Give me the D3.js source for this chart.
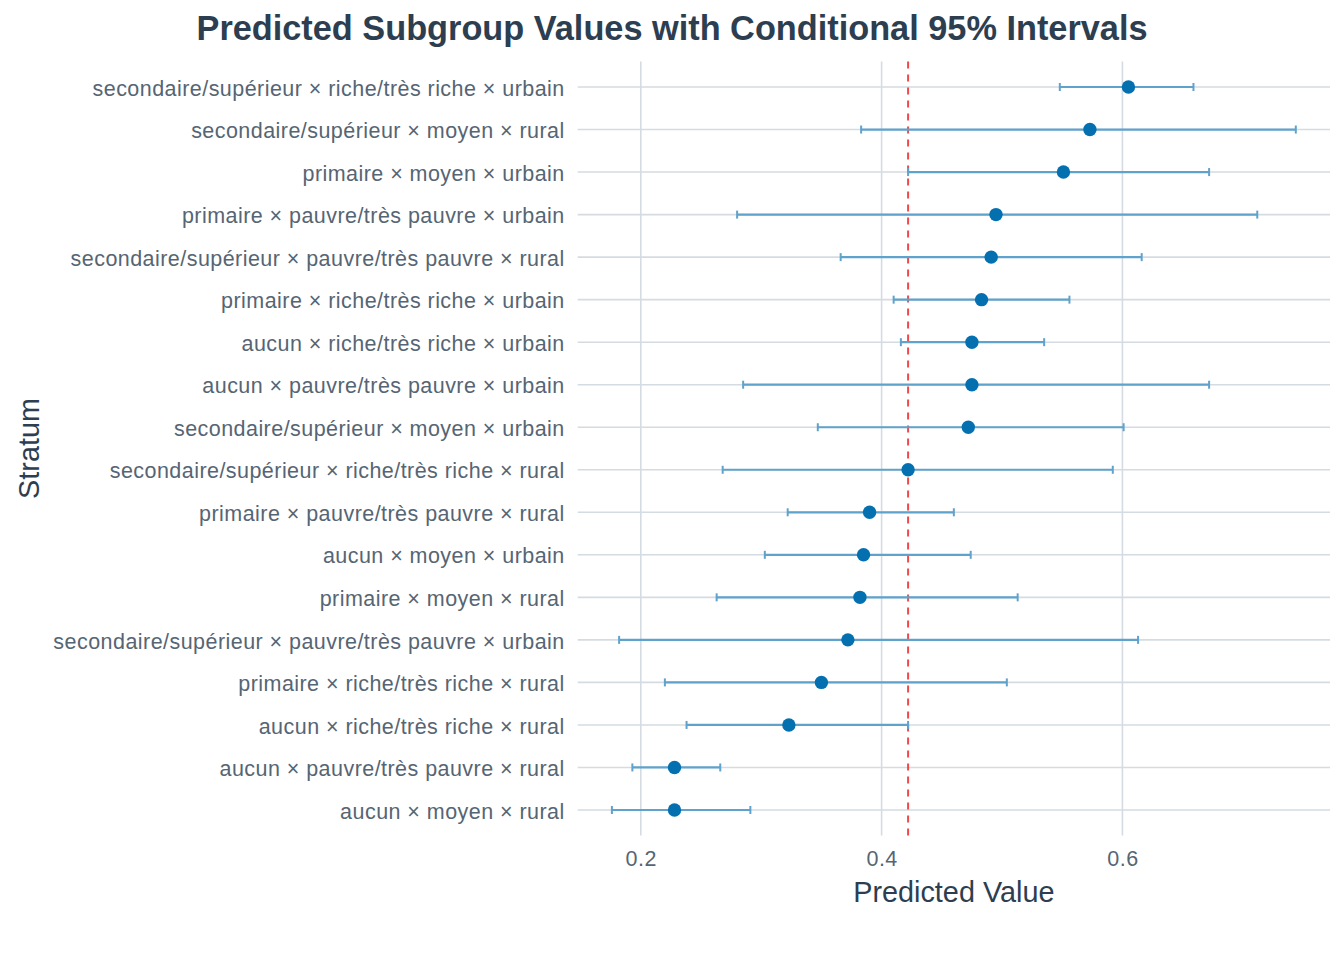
<!DOCTYPE html>
<html>
<head>
<meta charset="utf-8">
<script src="https://cdn.jsdelivr.net/npm/d3@7"></script>
<style>
  body { margin: 0; background: #fff; }
  text { font-family: "Liberation Sans", Arial, sans-serif; }
</style>
</head>
<body>
<div id="chart"></div>
<script>
// strata, top to bottom
var strata = [
  "secondaire/supérieur × riche/très riche × urbain",
  "secondaire/supérieur × moyen × rural",
  "primaire × moyen × urbain",
  "primaire × pauvre/très pauvre × urbain",
  "secondaire/supérieur × pauvre/très pauvre × rural",
  "primaire × riche/très riche × urbain",
  "aucun × riche/très riche × urbain",
  "aucun × pauvre/très pauvre × urbain",
  "secondaire/supérieur × moyen × urbain",
  "secondaire/supérieur × riche/très riche × rural",
  "primaire × pauvre/très pauvre × rural",
  "aucun × moyen × urbain",
  "primaire × moyen × rural",
  "secondaire/supérieur × pauvre/très pauvre × urbain",
  "primaire × riche/très riche × rural",
  "aucun × riche/très riche × rural",
  "aucun × pauvre/très pauvre × rural",
  "aucun × moyen × rural"
]
var predicted = [0.605, 0.573, 0.551, 0.495, 0.491, 0.483, 0.475, 0.475, 0.472, 0.422, 0.390, 0.385, 0.382, 0.372, 0.350, 0.323, 0.228, 0.228]
var lower = [0.548, 0.383, 0.422, 0.280, 0.366, 0.410, 0.416, 0.285, 0.347, 0.268, 0.322, 0.303, 0.263, 0.182, 0.220, 0.238, 0.193, 0.176]
var upper = [0.659, 0.744, 0.672, 0.712, 0.616, 0.556, 0.535, 0.672, 0.601, 0.592, 0.460, 0.474, 0.513, 0.613, 0.504, 0.422, 0.266, 0.291]
var overallMean = 0.422
var xTicks = [0.2, 0.4, 0.6]

var width = 1344, height = 960
var margin = {top: 61.5, right: 14, bottom: 124.5, left: 577.7}

var svg = d3.select("#chart").append("svg")
    .attr("width", width)
    .attr("height", height)

var xmin = d3.min(lower), xmax = d3.max(upper)
var pad = (xmax - xmin) * 0.05

var x = d3.scaleLinear()
    .domain([xmin - pad, xmax + pad])
    .range([margin.left, width - margin.right])

var y = d3.scalePoint()
    .domain(strata)
    .range([margin.top, height - margin.bottom])
    .padding(0.6)

var gridColor = "#d5dbe2"
var tickColor = "#566573"
var titleColor = "#2c3e50"

// vertical grid
svg.append("g").selectAll("line").data(xTicks).enter().append("line")
    .attr("x1", d => x(d)).attr("x2", d => x(d))
    .attr("y1", margin.top).attr("y2", height - margin.bottom)
    .attr("stroke", gridColor).attr("stroke-width", 1.6)

// horizontal grid
svg.append("g").selectAll("line").data(strata).enter().append("line")
    .attr("x1", margin.left).attr("x2", width - margin.right)
    .attr("y1", d => y(d)).attr("y2", d => y(d))
    .attr("stroke", gridColor).attr("stroke-width", 1.6)

// y axis labels
var yAxis = d3.axisLeft(y).tickSize(0).tickPadding(13)
var gy = svg.append("g").attr("transform", `translate(${margin.left},0)`).call(yAxis)
gy.select(".domain").remove()
gy.selectAll("text")
    .attr("fill", tickColor)
    .style("font-size", "21.5px")
    .style("letter-spacing", "0.45px")
    .attr("dy", "0.38em")

// x axis labels
var xAxis = d3.axisBottom(x).tickValues(xTicks).tickSize(0).tickPadding(15).tickFormat(d3.format(".1f"))
var gx = svg.append("g").attr("transform", `translate(0,${height - margin.bottom})`).call(xAxis)
gx.select(".domain").remove()
gx.selectAll("text")
    .attr("fill", tickColor)
    .style("font-size", "21.5px")
    .style("letter-spacing", "0.5px")

// reference line
svg.append("line")
    .attr("x1", x(overallMean)).attr("x2", x(overallMean))
    .attr("y1", margin.top).attr("y2", height - margin.bottom)
    .attr("stroke", "#f0484b").attr("stroke-width", 2)
    .attr("stroke-dasharray", "7,6")

var rows = strata.map((s, i) => ({s: s, p: predicted[i], lo: lower[i], hi: upper[i]}))

var barColor = "#5fa2cb"
var capH = 4

var eb = svg.append("g").selectAll("g").data(rows).enter().append("g")
eb.append("line")
    .attr("x1", d => x(d.lo)).attr("x2", d => x(d.hi))
    .attr("y1", d => y(d.s)).attr("y2", d => y(d.s))
    .attr("stroke", barColor).attr("stroke-width", 2.2)
eb.append("line")
    .attr("x1", d => x(d.lo)).attr("x2", d => x(d.lo))
    .attr("y1", d => y(d.s) - capH).attr("y2", d => y(d.s) + capH)
    .attr("stroke", barColor).attr("stroke-width", 2)
eb.append("line")
    .attr("x1", d => x(d.hi)).attr("x2", d => x(d.hi))
    .attr("y1", d => y(d.s) - capH).attr("y2", d => y(d.s) + capH)
    .attr("stroke", barColor).attr("stroke-width", 2)

// points
svg.append("g").selectAll("circle").data(rows).enter().append("circle")
    .attr("cx", d => x(d.p))
    .attr("cy", d => y(d.s))
    .attr("r", 6.7)
    .attr("fill", "#0570b0")

// titles
svg.append("text")
    .attr("x", width / 2)
    .attr("y", 40)
    .attr("text-anchor", "middle")
    .attr("fill", titleColor)
    .style("font-size", "34.3px")
    .style("font-weight", "bold")
    .text("Predicted Subgroup Values with Conditional 95% Intervals")

svg.append("text")
    .attr("x", (margin.left + width - margin.right) / 2)
    .attr("y", 902)
    .attr("text-anchor", "middle")
    .attr("fill", titleColor)
    .style("font-size", "28.8px")
    .text("Predicted Value")

svg.append("text")
    .attr("transform", `translate(39,${(margin.top + height - margin.bottom) / 2}) rotate(-90)`)
    .attr("text-anchor", "middle")
    .attr("fill", titleColor)
    .style("font-size", "28.8px")
    .text("Stratum")
</script>
</body>
</html>
